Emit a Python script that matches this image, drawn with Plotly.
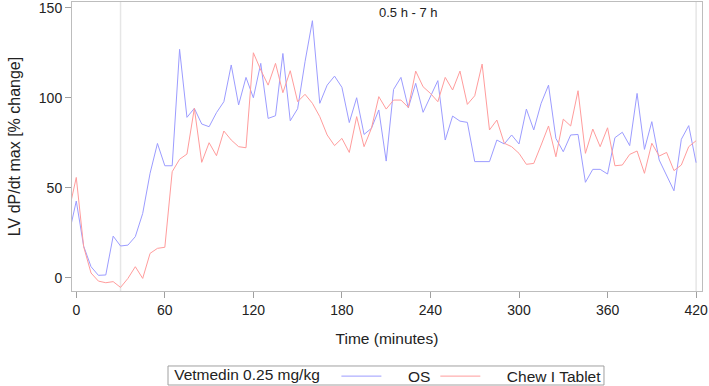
import plotly.graph_objects as go

time_min = [-5] + list(range(0, 425, 5))

os_values = [24, 42.6, 17.5, 6.1, 1.3, 1.5, 23.1, 17.6, 18.1, 22.8, 35.7,
             58, 74.6, 62.2, 62.2, 126.9, 89.1, 94.1, 85.4, 83.9, 91.7,
             97.8, 118.2, 96, 111.3, 100, 119.1, 88.5, 90, 124.6, 87.2,
             93.9, 120, 142.8, 96.9, 107, 112, 105.8, 86.2, 100, 79.6,
             83, 93.2, 64.8, 104.6, 111.3, 94.4, 108, 91.9, 100.6, 109.5,
             76.5, 89.8, 87, 86.3, 64.5, 64.5, 64.5, 76.5, 74.3, 79.3,
             74.3, 93.7, 82.1, 96.9, 107, 77.4, 70, 79.3, 79.6, 53,
             60.2, 60.2, 57.6, 77.8, 80.8, 73.4, 102.4, 71.3, 86.7, 65.4,
             57, 48.3, 76.9, 84.5, 63.9]

tablet_values = [37, 55.7, 17.2, 2.6, -1.9, -2.8, -2.2, -5.4, -0.4, 6.1, -0.4,
                 13.5, 16.3, 16.9, 58.9, 65.8, 68.7, 94.1, 64.1, 75, 67.8,
                 81.5, 76.5, 72.8, 72.2, 125, 115.4, 107, 119.1, 102.8, 115,
                 97.8, 101.9, 96.9, 89.5, 79.3, 73.4, 77.4, 69.6, 89.5, 72.8,
                 83, 100.6, 93.7, 98.7, 98.7, 94.6, 114.8, 106.1, 102.4, 97.8,
                 111.3, 104.3, 114.8, 96.3, 101.1, 118.7, 82.1, 87.6, 74.7, 72.8,
                 69.1, 63, 63.5, 73.7, 84.3, 67.2, 88.1, 84.3, 103.9, 69.1,
                 82.6, 72.8, 83.3, 62.2, 62.6, 68.5, 70.4, 58, 74.7, 67.6,
                 69.6, 59.5, 62.6, 72.8, 76.1]

x_ticks = [0, 60, 120, 180, 240, 300, 360, 420]
y_ticks = [0, 50, 100, 150]
ref_lines = [30, 420]
window_label = "0.5 h - 7 h"

FONT = "Liberation Sans, Arial, sans-serif"
NB = "\u00a0"

fig = go.Figure()
fig.add_trace(go.Scatter(x=time_min, y=os_values, mode="lines", name=NB * 5 + "OS",
                         line=dict(color="#9c9cff", width=1)))
fig.add_trace(go.Scatter(x=time_min, y=tablet_values, mode="lines",
                         name=NB * 5 + "Chew I Tablet",
                         line=dict(color="#ff9c9c", width=1)))

for xv in ref_lines:
    fig.add_shape(type="line", x0=xv, x1=xv, y0=0, y1=1, xref="x", yref="paper",
                  line=dict(color="#e6e6e6", width=1.5), layer="below")

# legend frame
fig.add_shape(type="rect", xref="paper", yref="paper",
              x0=0.1524, x1=0.8444, y0=-0.3253, y1=-0.2595,
              line=dict(color="#a0a0a0", width=1), fillcolor="rgba(0,0,0,0)")

fig.add_annotation(x=(ref_lines[0] + ref_lines[1]) / 2, y=1, xref="x", yref="paper",
                   text=window_label, showarrow=False, yanchor="top", yshift=-1,
                   font=dict(family=FONT, size=13, color="#222"))

fig.update_layout(
    width=709, height=386,
    margin=dict(l=72, r=7, t=2, b=95, autoexpand=False),
    paper_bgcolor="white", plot_bgcolor="white",
    font=dict(family=FONT, size=14, color="#222"),
    showlegend=True,
    legend=dict(
        orientation="h", x=0.159, xanchor="left", y=-0.296, yanchor="middle",
        borderwidth=0, bgcolor="rgba(0,0,0,0)", valign="middle",
        title=dict(text="Vetmedin 0.25 mg/kg" + NB * 2, side="left", font=dict(size=15.5)),
        font=dict(size=15.5), itemwidth=40, tracegroupgap=0,
    ),
    xaxis=dict(
        range=[-2.9, 424], tickvals=x_ticks, ticks="outside", ticklen=6,
        tickcolor="#a0a0a0", showline=True, linecolor="#bdbdbd", mirror=True,
        showgrid=False, zeroline=False, automargin=False,
        title=dict(text="Time (minutes)", font=dict(size=15.5), standoff=16),
        tickfont=dict(size=14), ticklabeloverflow="allow",
    ),
    yaxis=dict(
        range=[-7.4, 153.2], tickvals=y_ticks, ticks="outside", ticklen=6,
        tickcolor="#a0a0a0", showline=True, linecolor="#bdbdbd", mirror=True,
        showgrid=False, zeroline=False, automargin=False,
        title=dict(text="LV dP/dt max [% change]", font=dict(size=16), standoff=14),
        tickfont=dict(size=14), ticklabeloverflow="allow",
    ),
)

fig.write_html("out.html", config={"displayModeBar": False},
               post_script="document.body.style.margin='0';")
